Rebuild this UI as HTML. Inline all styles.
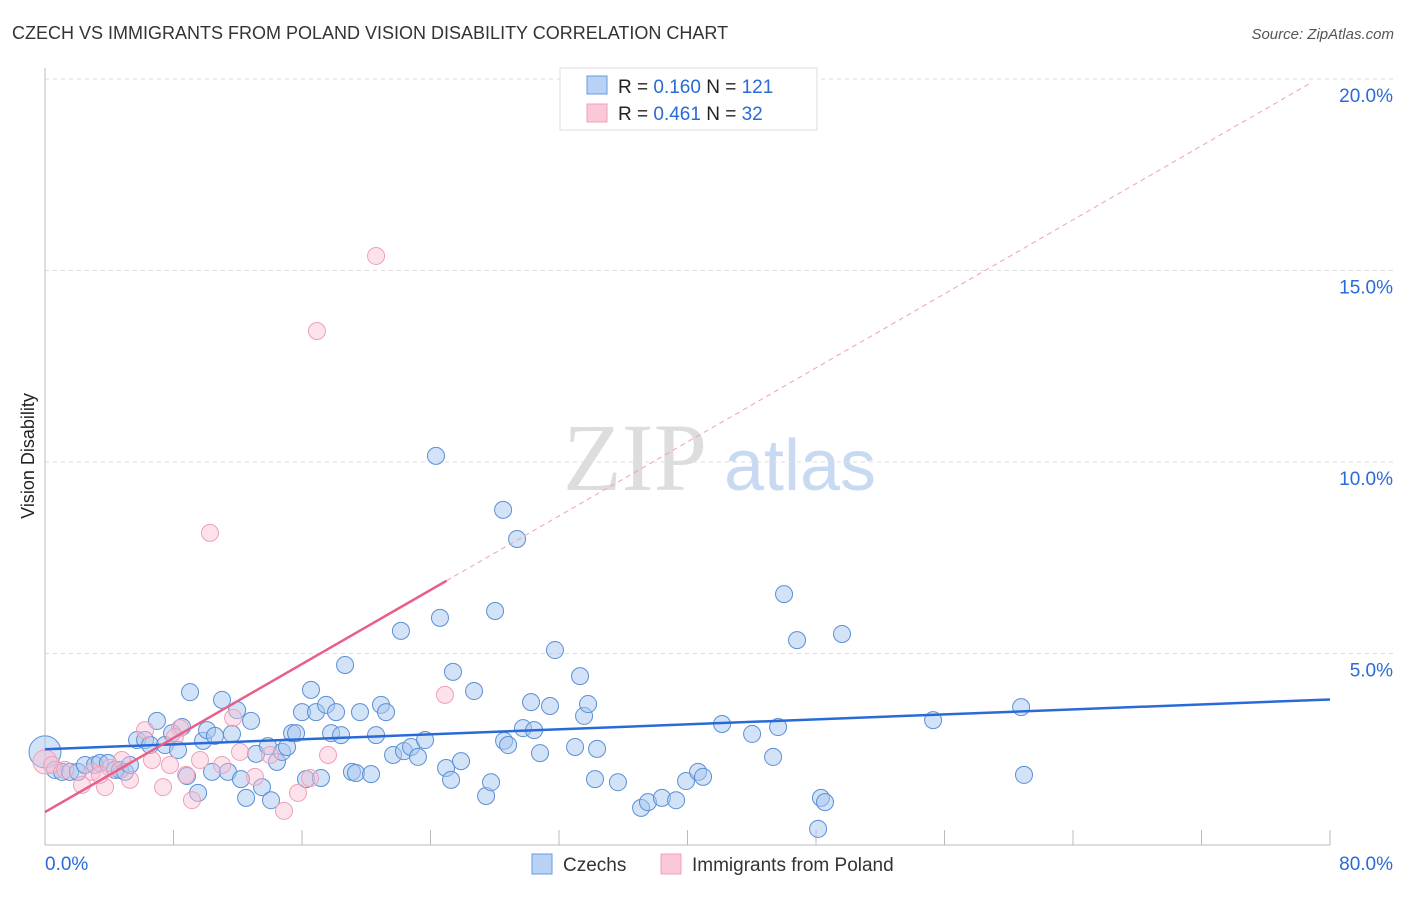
<!DOCTYPE html>
<html><head><meta charset="utf-8"><style>
body{margin:0;background:#fff;font-family:"Liberation Sans",sans-serif;}
</style></head><body>
<svg width="1406" height="892" xmlns="http://www.w3.org/2000/svg" id="chart">
<text x="12" y="39" font-size="18" fill="#333">CZECH VS IMMIGRANTS FROM POLAND VISION DISABILITY CORRELATION CHART</text>
<text x="1394" y="39" font-size="15" fill="#555" font-style="italic" text-anchor="end">Source: ZipAtlas.com</text>
<text x="34" y="456" font-size="18" fill="#222" transform="rotate(-90 34 456)" text-anchor="middle">Vision Disability</text>
<g>
<text x="635" y="490" font-size="96" fill="#ddd" font-family="Liberation Serif,serif" text-anchor="middle">ZIP</text>
<text x="800" y="490" font-size="72" fill="#c8daf2" text-anchor="middle">atlas</text>
</g>
<g id="grid"></g><g id="axes"></g><g id="pts"></g><g id="lines"></g>
<g>
<rect x="560" y="68" width="257" height="62" fill="#fff" stroke="#ddd"/>
<rect x="587" y="76" width="20" height="18" fill="#b8d2f5" stroke="#6a9ae0"/>
<rect x="587" y="104" width="20" height="18" fill="#fbc8d8" stroke="#f0a0b8"/>
<text x="618" y="93" font-size="19" fill="#222">R = <tspan fill="#2a6ad8">0.160</tspan>   N = <tspan fill="#2a6ad8">121</tspan></text>
<text x="618" y="120" font-size="19" fill="#222">R = <tspan fill="#2a6ad8">0.461</tspan>   N =  <tspan fill="#2a6ad8">32</tspan></text>
</g>
<g>
<rect x="532" y="854" width="20" height="20" fill="#b8d2f5" stroke="#6a9ae0"/>
<text x="563" y="871" font-size="19" fill="#333">Czechs</text>
<rect x="661" y="854" width="20" height="20" fill="#fbc8d8" stroke="#f0a0b8"/>
<text x="692" y="871" font-size="19" fill="#333">Immigrants from Poland</text>
</g>
</svg>
<script>
const blueX=[0,0.62,1.06,1.56,2.05,2.49,3.11,3.42,3.92,4.36,4.67,4.98,5.29,5.73,6.23,6.54,6.97,7.47,7.91,8.28,8.53,8.84,9.03,9.53,9.84,10.09,10.40,10.58,11.02,11.39,11.64,11.96,12.20,12.52,12.83,13.14,13.51,13.88,14.07,14.44,14.76,15.07,15.38,15.63,16.00,16.25,16.56,16.87,17.18,17.50,17.81,18.12,18.43,18.68,19.11,19.36,19.61,20.30,20.61,20.92,21.23,21.67,22.16,22.35,22.79,23.22,23.66,24.34,24.59,24.97,25.28,25.40,25.90,26.71,27.46,27.77,28.02,28.52,28.58,28.83,29.39,29.76,30.26,30.45,30.82,31.44,31.75,33.00,33.31,33.56,33.81,34.37,34.24,35.67,37.11,37.54,38.41,39.29,39.91,40.66,40.97,42.15,44.02,45.33,45.64,46.01,46.82,48.13,48.31,48.56,49.62,55.29,60.77,60.95];
const blueY=[2.43,1.96,1.91,1.91,1.91,2.09,2.09,2.14,2.14,1.96,1.96,1.91,2.09,2.74,2.74,2.61,3.24,2.61,2.92,2.48,3.08,1.80,3.99,1.36,2.72,3.00,1.91,2.85,3.79,1.91,2.90,3.52,1.72,1.23,3.24,2.38,1.51,2.58,1.17,2.17,2.43,2.56,2.92,2.92,3.47,1.72,4.05,3.47,1.75,3.66,2.92,3.47,2.87,4.70,1.91,1.88,3.47,1.85,2.87,3.66,3.47,2.35,5.59,2.45,2.56,2.30,2.74,10.16,5.93,2.01,1.70,4.52,2.19,4.02,1.28,1.64,6.11,8.75,2.72,2.61,7.99,3.05,3.73,3.00,2.40,3.63,5.09,2.56,4.41,3.37,3.68,2.51,1.72,1.64,0.97,1.12,1.23,1.17,1.67,1.91,1.78,3.16,2.90,2.30,3.08,6.55,5.35,0.42,1.23,1.12,5.51,3.26,3.60,1.83];
const pinkX=[0,0.44,1.25,2.30,2.93,3.74,4.05,4.79,5.29,6.23,6.66,7.35,7.78,8.40,8.09,8.78,9.15,9.65,10.27,11.02,11.71,12.14,13.07,14.01,14.88,15.75,16.50,16.93,17.62,20.61,24.90,3.42];
const pinkY=[2.17,2.09,1.96,1.57,1.91,1.51,2.01,2.22,1.70,3.00,2.22,1.51,2.09,3.05,2.82,1.83,1.17,2.22,8.15,2.09,3.32,2.43,1.78,2.35,0.89,1.36,1.75,13.42,2.35,15.38,3.92,1.83];
const yTicks=[5,10,15,20];
const xTickLabels=["0.0%","80.0%"];
const blueTrend=[2.5,3.8];   // y at x=0 and x=80
const pinkTrend=[0.86,6.9,25]; // y at 0, y at xEnd, xEnd
const NS="http://www.w3.org/2000/svg";
const X=v=>45+v/80*1285, Y=v=>845-v*38.3;
function mk(p,t,a){const e=document.createElementNS(NS,t);for(const k in a)e.setAttribute(k,a[k]);document.getElementById(p).appendChild(e);return e;}
yTicks.forEach(t=>{
 const l=mk('grid','line',{x1:45,x2:1394,y1:Y(t),y2:Y(t),stroke:'#ddd','stroke-dasharray':'4 4'});
 
 
 const tx=mk('grid','text',{x:1393,y:Y(t)+23,'font-size':19,fill:'#2a6ad8','text-anchor':'end'});
 tx.textContent=t.toFixed(1)+'%';
 
 
});
mk('axes','line',{x1:45,x2:45,y1:68,y2:845,stroke:'#bbb'});
mk('axes','line',{x1:45,x2:1330,y1:845,y2:845,stroke:'#bbb'});
for(let i=1;i<=10;i++){const t=mk('axes','line',{x1:X(i*8),x2:X(i*8),y1:830,y2:845,stroke:'#bbb'});
 
 }
const xl0=mk('axes','text',{x:45,y:870,'font-size':19,fill:'#2a6ad8'});xl0.textContent=xTickLabels[0];


const xl1=mk('axes','text',{x:1393,y:870,'font-size':19,fill:'#2a6ad8','text-anchor':'end'});xl1.textContent=xTickLabels[1];


blueX.forEach((v,i)=>{const c=mk('pts','circle',{cx:X(v),cy:Y(blueY[i]),r:i==0?16:8.5,fill:'rgba(168,200,240,0.5)',stroke:'#5b8fd6','stroke-width':1});
 
 });
pinkX.forEach((v,i)=>{const c=mk('pts','circle',{cx:X(v),cy:Y(pinkY[i]),r:i==0?12:8.5,fill:'rgba(248,190,210,0.45)',stroke:'#f0a0b8','stroke-width':1});
 
 });
const bl=mk('lines','line',{x1:X(0),y1:Y(blueTrend[0]),x2:X(80),y2:Y(blueTrend[1]),stroke:'#2a6ad8','stroke-width':2.5});


const slope=(pinkTrend[1]-pinkTrend[0])/pinkTrend[2];
const pl=mk('lines','line',{x1:X(0),y1:Y(pinkTrend[0]),x2:X(pinkTrend[2]),y2:Y(pinkTrend[1]),stroke:'#e8608a','stroke-width':2.5});


const pd=mk('lines','line',{x1:X(pinkTrend[2]),y1:Y(pinkTrend[1]),x2:X(78.8),y2:Y(pinkTrend[0]+slope*78.8),stroke:'#f0a0b8','stroke-width':1,'stroke-dasharray':'5 4'});


</script>
</body></html>
